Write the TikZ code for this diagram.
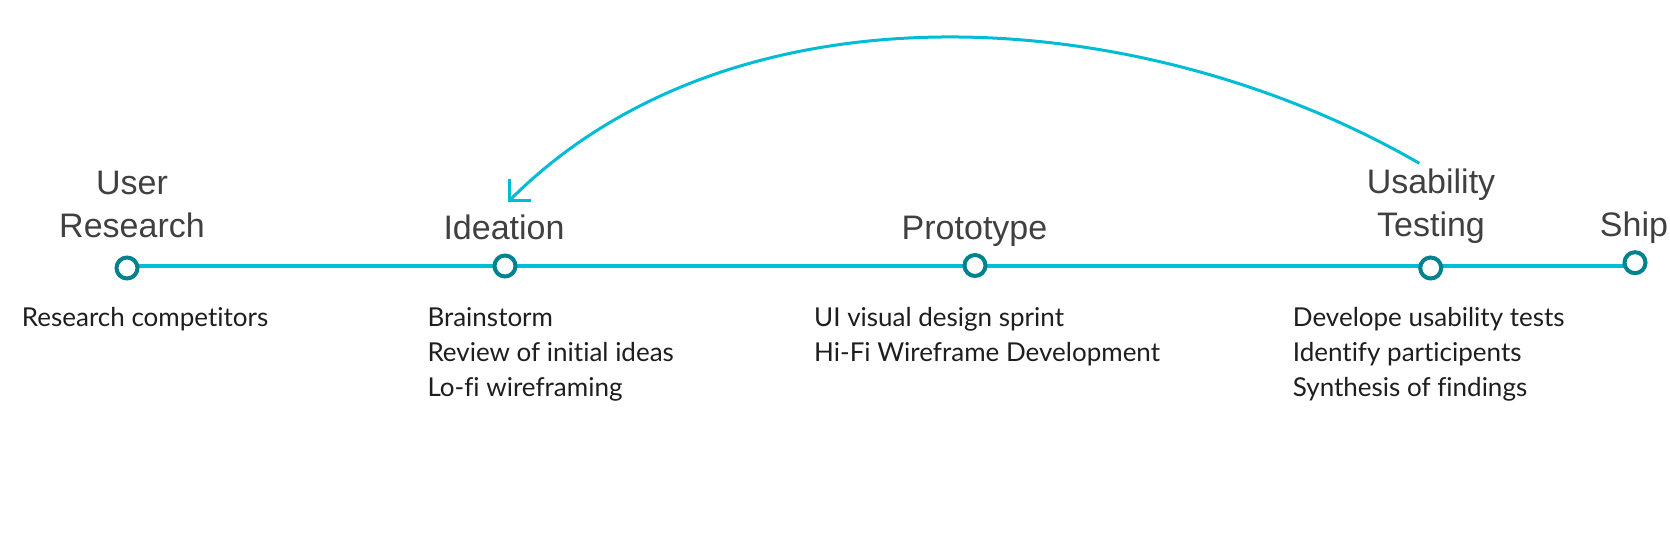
\documentclass[tikz,border=0pt]{standalone}
\usepackage{fontspec}
\setmainfont{Liberation Sans}
\newfontfamily\subfont[Ligatures={NoCommon}]{Lato}
\usetikzlibrary{arrows.meta,backgrounds}
\definecolor{linecyan}{HTML}{00BCD4}
\definecolor{ringteal}{HTML}{00838F}
\definecolor{labelgray}{HTML}{404040}
\definecolor{subblack}{HTML}{1E1E1E}
\begin{document}
\begin{tikzpicture}[x=1pt,y=1pt,
  stage/.style={circle, draw=ringteal, line width=4pt, fill=white, minimum size=21pt, inner sep=0pt},
  phase/.style={font=\fontsize{34}{43}\selectfont, text=labelgray, align=center, anchor=base, inner sep=0pt},
  tasks/.style={font=\subfont\fontsize{26}{35.3}\selectfont, text=subblack, align=left, anchor=base west, inner sep=0pt},
  track/.style={draw=linecyan, line width=3.5pt},
  loopback/.style={draw=linecyan, line width=3pt, -{Straight Barb[angle=90:21pt]}}
]
\useasboundingbox (0,0) rectangle (1670,534);

% stage markers
\node[stage] (user) at (127,266) {};
\node[stage] (idea) at (505,268) {};
\node[stage] (proto) at (975,268.5) {};
\node[stage] (test) at (1430.7,266) {};
\node[stage] (ship) at (1635,271.3) {};

% timeline
\begin{scope}[on background layer]
\draw[track] (user.center |- idea.center) -- (ship.center |- idea.center);
\end{scope}

% phase labels (base = last line baseline)
\node[phase] (userlbl) at (132,296) {User\\Research};
\node[phase] (idealbl) at (504,294) {Ideation};
\node[phase] (protolbl) at (974.5,294) {Prototype};
\node[phase] (testlbl) at (1431,297.3) {Usability\\Testing};
\node[phase] (shiplbl) at (1634,297.3) {Ship};

% tasks (base = last line baseline)
\node[tasks] (usertasks) at (21.7,207.3) {Research competitors};
\node[tasks] (ideatasks) at (427.3,137) {Brainstorm\\Review of initial ideas\\Lo-fi wireframing};
\node[tasks] (prototasks) at (814,172) {UI visual design sprint\\Hi-Fi Wireframe Development};
\node[tasks] (testtasks) at (1292.7,137) {Develope usability tests\\Identify participents\\Synthesis of findings};

% loop back arrow
\coordinate (loopstart) at (1419.3,370.7);
\coordinate (looptip) at (508,332);
\draw[loopback] (loopstart) to[out=150,in=45,looseness=0.9] (looptip);
\end{tikzpicture}
\end{document}
